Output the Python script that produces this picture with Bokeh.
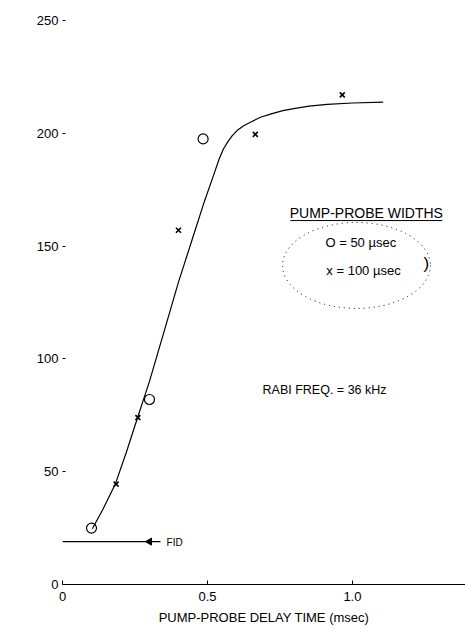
import math
from bokeh.plotting import figure
from bokeh.models import Label, FixedTicker, Range1d
from bokeh.embed import file_html
from bokeh.resources import INLINE

# ---- data ----
circle_x = [0.10, 0.30, 0.485]          # pump-probe width 50 usec
circle_y = [25, 82, 197.5]
cross_x = [0.185, 0.26, 0.40, 0.665, 0.965]   # pump-probe width 100 usec
cross_y = [44.5, 74, 157, 199.5, 217]

curve_x = [0.103, 0.14, 0.183, 0.22, 0.259, 0.30, 0.35, 0.40, 0.45, 0.49,
           0.52, 0.54, 0.555, 0.57, 0.585, 0.602, 0.625, 0.65, 0.683, 0.72,
           0.76, 0.798, 0.85, 0.913, 1.00, 1.106]
curve_y = [24.7, 33.5, 44.8, 58.5, 74, 90, 112, 134, 154, 170,
           181, 188.5, 193, 196.2, 198.8, 201.2, 203.3, 205, 207.1, 208.6,
           210, 210.9, 212, 212.8, 213.4, 213.8]

fid_x = [0.0, 0.338]
fid_y = [19, 19]

x_ticks = [0, 0.5, 1.0]
x_tick_labels = ["0", "0.5", "1.0"]
y_ticks = [0, 50, 100, 150, 200, 250]
y_tick_labels = ["0", "50", "100", "150", "200", "250"]

FONT = "Liberation Sans"

p = figure(width=465, height=634, output_backend="svg", toolbar_location=None,
           x_range=Range1d(0, 1.39), y_range=Range1d(0, 254.4),
           min_border_left=62, min_border_right=0, min_border_top=10,
           min_border_bottom=50)
p.outline_line_color = None
p.grid.visible = False
p.background_fill_color = "white"
p.border_fill_color = "white"

# x axis
xa = p.xaxis[0]
xa.ticker = FixedTicker(ticks=x_ticks)
xa.major_label_overrides = dict(zip(x_ticks, x_tick_labels))
xa.major_tick_in = 4
xa.major_tick_out = 0
xa.minor_tick_line_color = None
xa.axis_line_color = "black"
xa.axis_line_width = 1
xa.major_label_standoff = 7
xa.major_label_text_font = FONT
xa.major_label_text_font_size = "13px"
xa.major_label_text_color = "black"
xa.axis_label = "PUMP-PROBE DELAY TIME (msec)"
xa.axis_label_text_font = FONT
xa.axis_label_text_font_size = "13px"
xa.axis_label_text_font_style = "normal"
xa.axis_label_text_color = "black"
xa.axis_label_standoff = 6

# y axis
ya = p.yaxis[0]
ya.ticker = FixedTicker(ticks=y_ticks)
ya.major_label_overrides = dict(zip(y_ticks, y_tick_labels))
ya.axis_line_color = None
ya.major_tick_in = 3
ya.major_tick_out = 0
ya.minor_tick_line_color = None
ya.major_label_standoff = 4
ya.major_label_text_font = FONT
ya.major_label_text_font_size = "13px"
ya.major_label_text_color = "black"

# fitted curve
p.line(curve_x, curve_y, line_color="black", line_width=1.2, line_join="round")

# data markers
p.scatter(circle_x, circle_y, marker="circle", size=10, fill_color=None,
          line_color="black", line_width=1.2)
p.scatter(cross_x, cross_y, marker="x", size=7, line_color="black", line_width=1.6)

# FID level with arrow
p.line(fid_x, fid_y, line_color="black", line_width=1.2)
p.scatter([0.30], [19], marker="triangle", angle=math.pi / 2, size=7,
          fill_color="black", line_color="black")
p.add_layout(Label(x=0.359, y=18.5, text="FID", text_font=FONT,
                   text_font_size="10px", text_baseline="middle",
                   text_align="left", text_color="black"))

# y-axis title
p.add_layout(Label(x=-0.15, y=118.8, text="HOLE WIDTH (HWHM) kHz", angle=math.pi / 2,
                   text_font=FONT, text_font_size="14px", text_align="center",
                   text_baseline="middle", text_color="black"))

# legend box
p.add_layout(Label(x=1.048, y=164.5, text="PUMP-PROBE WIDTHS", text_font=FONT,
                   text_font_size="14px", text_align="center", text_baseline="middle",
                   text_color="black"))
p.line([0.786, 1.31], [161.3, 161.3], line_color="black", line_width=1)
p.add_layout(Label(x=0.907, y=151.6, text="O = 50 µsec", text_font=FONT,
                   text_font_size="13px", text_align="left", text_baseline="middle",
                   text_color="black"))
p.add_layout(Label(x=0.910, y=139.2, text="x = 100 µsec", text_font=FONT,
                   text_font_size="13px", text_align="left", text_baseline="middle",
                   text_color="black"))
p.ellipse(x=[1.014], y=[141.4], width=0.51, height=38.1, fill_color=None,
          line_color="black", line_width=1, line_dash="1 4")
p.add_layout(Label(x=1.255, y=142.3, text=")", text_font=FONT,
                   text_font_size="17px", text_align="center", text_baseline="middle",
                   text_color="black"))

# Rabi frequency note
p.add_layout(Label(x=0.69, y=86, text="RABI FREQ. = 36 kHz", text_font=FONT,
                   text_font_size="12.5px", text_align="left", text_baseline="middle",
                   text_color="black"))

open("out.html", "w").write(file_html(p, INLINE))
